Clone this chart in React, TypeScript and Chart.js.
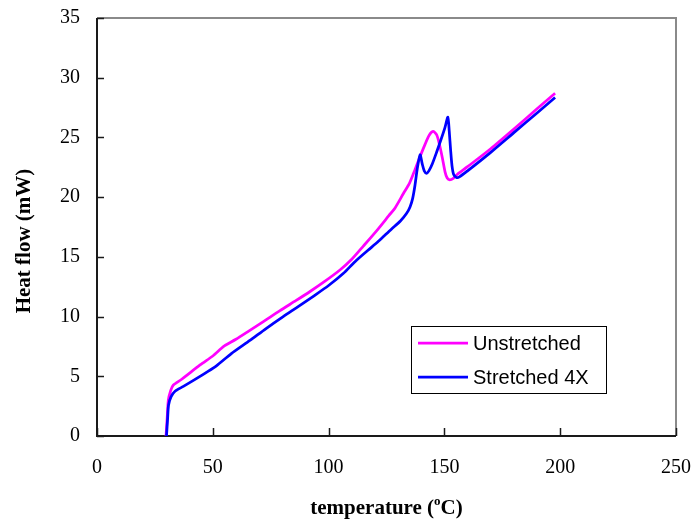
import { useEffect, useRef } from "react";
import { Chart, registerables } from "chart.js";

Chart.register(...registerables);

// DSC heating scans: temperature (°C) vs heat flow (mW)
const unstretchedTemp = [
  29.8, 30.3, 30.8, 31.8, 32.9, 36.6, 44.5, 50, 53.5, 55, 60, 66, 72, 79, 86, 92, 98,
  104.9, 110, 115, 120.8, 126, 128.7, 132.3, 135, 137.3, 139.5, 141.6, 143.5, 145.2,
  146.7, 148, 149.2, 150.3, 151.2, 152.3, 154, 155.5, 160, 170, 180, 190, 197.8,
];
const unstretchedFlow = [
  0, 1.5, 3.0, 3.8, 4.25, 4.75, 5.95, 6.7, 7.3, 7.55, 8.1, 8.85, 9.6, 10.5, 11.35, 12.1, 12.9,
  13.9, 14.8, 15.9, 17.2, 18.45, 19.1, 20.3, 21.2, 22.3, 23.4, 24.4, 25.2, 25.5,
  25.2, 24.3, 23.2, 22.1, 21.6, 21.45, 21.6, 21.9, 22.55, 24.05, 25.7, 27.4, 28.7,
];

const stretchedTemp = [
  30.0, 30.5, 30.9, 32, 33.7, 37.3, 42, 47.4, 51.7, 58, 66, 73, 80.4, 87, 93.4, 100,
  106.3, 111.4, 117, 121.5, 127, 131, 133.7, 135.2, 136.3, 137.3, 138.3, 139.5, 140.4,
  141.3, 142.3, 143.3, 144.8, 146.7, 148.5, 150.2, 151.5, 152.1, 152.7, 153.3, 154,
  155.2, 156.5, 160, 170, 180, 190, 197.8,
];
const stretchedFlow = [
  0, 1.5, 2.6, 3.3, 3.75, 4.15, 4.7, 5.35, 5.9, 6.9, 8.0, 9.0, 10.0, 10.85, 11.7, 12.6,
  13.6, 14.6, 15.55, 16.3, 17.3, 18.0, 18.65, 19.2, 19.9, 21.0, 22.4, 23.55, 22.8,
  22.2, 22.0, 22.2, 22.8, 23.8, 24.8, 25.8, 26.7, 25.5, 23.9, 22.6, 21.9,
  21.65, 21.7, 22.2, 23.75, 25.4, 27.05, 28.35,
];

const seriesNames = ["Unstretched", "Stretched 4X"];
const seriesColors = ["#FF00FF", "#0000FF"];

const xMin = 0;
const xMax = 250;
const xStep = 50;
const yMin = 0;
const yMax = 35;
const yStep = 5;

const serif = "'Times New Roman', 'Liberation Serif', serif";
const sans = "Arial, 'Liberation Sans', sans-serif";

const toPoints = (xs: number[], ys: number[]) => xs.map((x, i) => ({ x, y: ys[i] }));

// Frame, inward tick marks, boxed legend and axis titles
const decorations = {
  id: "decorations",
  beforeDatasetsDraw(chart: any) {
    const { ctx, chartArea } = chart;
    const { left, right, top, bottom } = chartArea;
    const xs = chart.scales.x;
    const ys = chart.scales.y;
    ctx.save();
    // top / right border (grey)
    ctx.strokeStyle = "#8a8a8a";
    ctx.lineWidth = 2;
    ctx.beginPath();
    ctx.moveTo(left, top);
    ctx.lineTo(right, top);
    ctx.lineTo(right, bottom);
    ctx.stroke();
    // axes (black)
    ctx.strokeStyle = "#1a1a1a";
    ctx.lineWidth = 2;
    ctx.beginPath();
    ctx.moveTo(left, top);
    ctx.lineTo(left, bottom);
    ctx.lineTo(right, bottom);
    ctx.stroke();
    // inward tick marks
    ctx.lineWidth = 1.5;
    for (let v = yMin; v <= yMax; v += yStep) {
      const py = Math.round(ys.getPixelForValue(v)) + 0.5;
      ctx.beginPath();
      ctx.moveTo(left, py);
      ctx.lineTo(left + 7, py);
      ctx.stroke();
    }
    for (let v = xMin; v <= xMax; v += xStep) {
      const px = Math.round(xs.getPixelForValue(v)) + 0.5;
      ctx.beginPath();
      ctx.moveTo(px, bottom);
      ctx.lineTo(px, bottom - 8);
      ctx.stroke();
    }
    ctx.restore();
  },
  afterDraw(chart: any) {
    const { ctx, chartArea } = chart;
    const { left, right, top, bottom } = chartArea;
    ctx.save();

    // legend
    const bx = 411.5;
    const by = 326.5;
    const bw = 195;
    const bh = 67;
    ctx.fillStyle = "#ffffff";
    ctx.fillRect(bx, by, bw, bh);
    ctx.strokeStyle = "#000000";
    ctx.lineWidth = 1;
    ctx.strokeRect(bx, by, bw, bh);
    ctx.font = `20px ${sans}`;
    ctx.textAlign = "left";
    ctx.textBaseline = "middle";
    const rows = [343, 377];
    seriesNames.forEach((name, i) => {
      ctx.strokeStyle = seriesColors[i];
      ctx.lineWidth = 2.75;
      ctx.beginPath();
      ctx.moveTo(418, rows[i]);
      ctx.lineTo(468, rows[i]);
      ctx.stroke();
      ctx.fillStyle = "#000000";
      ctx.fillText(name, 473, rows[i] + 1);
    });

    // x-axis title with superscript "o"
    ctx.fillStyle = "#000000";
    ctx.textBaseline = "alphabetic";
    const mainFont = `bold 21px ${serif}`;
    const supFont = `bold 13px ${serif}`;
    const partA = "temperature (";
    const partB = "o";
    const partC = "C)";
    ctx.font = mainFont;
    const wA = ctx.measureText(partA).width;
    const wC = ctx.measureText(partC).width;
    ctx.font = supFont;
    const wB = ctx.measureText(partB).width;
    const total = wA + wB + wC;
    const cx = (left + right) / 2;
    let tx = cx - total / 2;
    const base = 514;
    ctx.font = mainFont;
    ctx.fillText(partA, tx, base);
    tx += wA;
    ctx.font = supFont;
    ctx.fillText(partB, tx, base - 9);
    tx += wB;
    ctx.font = mainFont;
    ctx.fillText(partC, tx, base);

    // y-axis title
    ctx.translate(30, (top + bottom) / 2 + 14);
    ctx.rotate(-Math.PI / 2);
    ctx.textAlign = "center";
    ctx.font = mainFont;
    ctx.fillText("Heat flow (mW)", 0, 0);
    ctx.restore();
  },
};

export default function App() {
  const canvasRef = useRef<HTMLCanvasElement | null>(null);

  useEffect(() => {
    const canvas = canvasRef.current;
    if (!canvas) return;
    const chart = new Chart(canvas, {
      type: "line",
      data: {
        datasets: [
          {
            label: seriesNames[0],
            data: toPoints(unstretchedTemp, unstretchedFlow),
            borderColor: seriesColors[0],
            borderWidth: 2.75,
            pointRadius: 0,
            tension: 0.25,
            fill: false,
            clip: 6,
            order: 2,
          },
          {
            label: seriesNames[1],
            data: toPoints(stretchedTemp, stretchedFlow),
            borderColor: seriesColors[1],
            borderWidth: 2.75,
            pointRadius: 0,
            tension: 0.25,
            fill: false,
            clip: 6,
            order: 1,
          },
        ],
      },
      options: {
        responsive: false,
        animation: false,
        events: [],
        layout: { padding: { top: 18, right: 19, left: 0, bottom: 0 } },
        plugins: {
          legend: { display: false },
          tooltip: { enabled: false },
        },
        scales: {
          x: {
            type: "linear",
            min: xMin,
            max: xMax,
            grid: { display: false, drawTicks: false },
            border: { display: false },
            ticks: {
              stepSize: xStep,
              padding: 20,
              color: "#000000",
              font: { family: serif, size: 20 },
              maxRotation: 0,
            },
            afterFit: (scale: any) => {
              scale.height = 86;
              scale.paddingLeft = 0;
              scale.paddingRight = 0;
            },
          },
          y: {
            type: "linear",
            min: yMin,
            max: yMax,
            grid: { display: false, drawTicks: false },
            border: { display: false },
            ticks: {
              stepSize: yStep,
              padding: 17,
              color: "#000000",
              font: { family: serif, size: 20 },
            },
            afterFit: (scale: any) => {
              scale.width = 97;
              scale.paddingTop = 0;
              scale.paddingBottom = 0;
            },
          },
        },
      },
      plugins: [decorations],
    });
    return () => chart.destroy();
  }, []);

  return (
    <div style={{ position: "fixed", left: 0, top: 0, width: 695, height: 522, background: "#ffffff" }}>
      <canvas ref={canvasRef} width={695} height={522} style={{ width: 695, height: 522, display: "block" }} />
    </div>
  );
}
